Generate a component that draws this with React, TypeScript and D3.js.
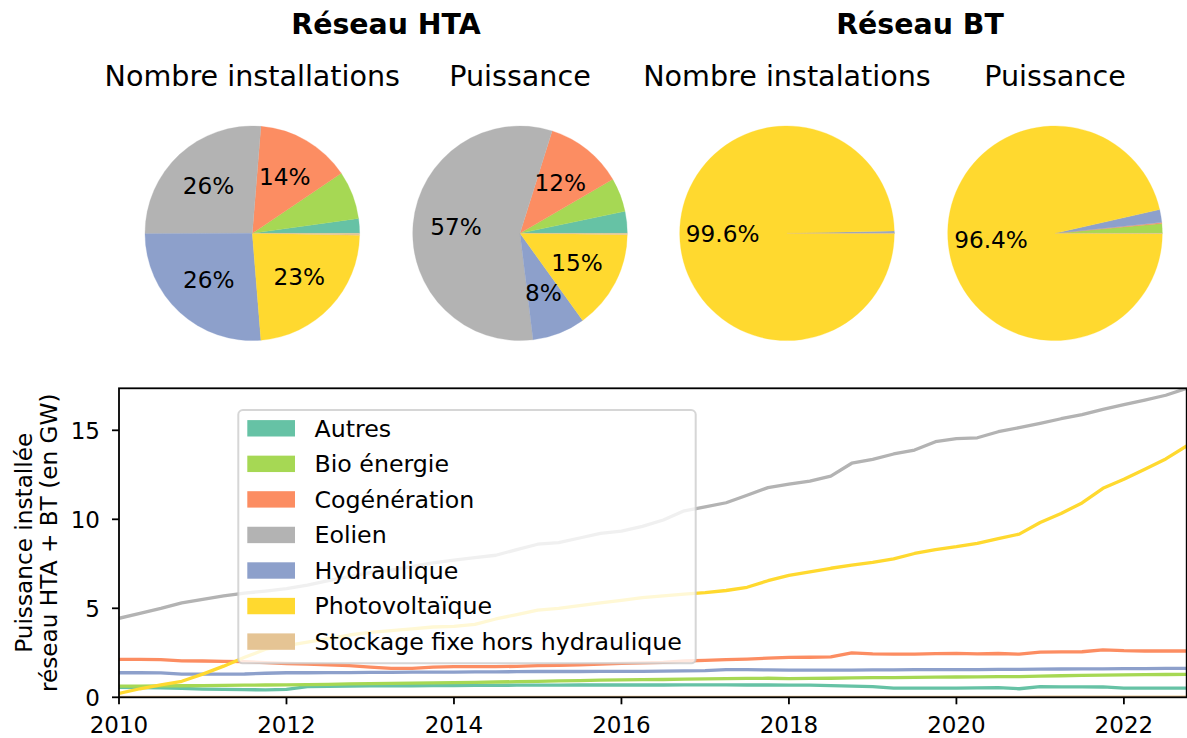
import React from "react";
import * as d3 from "d3";

const categories = ["Autres", "Bio énergie", "Cogénération", "Eolien", "Hydraulique", "Photovoltaïque", "Stockage fixe hors hydraulique"];
const colors = ["#66c2a5", "#a6d854", "#fc8d62", "#b3b3b3", "#8da0cb", "#ffd92f", "#e5c494"];

const pieHTANombre = [2.2, 7.2, 14.2, 26.2, 26.1, 23.3, 0.3];
const pieHTAPuissance = [3.3, 5.1, 11.8, 56.9, 8.0, 14.9, 0.2];
const pieBTNombre = [0.01, 0.03, 0.02, 0.04, 0.25, 99.6, 0.05];
const pieBTPuissance = [0.05, 1.4, 0.15, 0.05, 1.9, 96.4, 0.05];

const groupTitles = ["Réseau HTA", "Réseau BT"];
const pieTitles = ["Nombre installations", "Puissance", "Nombre instalations", "Puissance"];

const startYear = 2010;
const xTicks = [2010, 2012, 2014, 2016, 2018, 2020, 2022];
const yTicks = [0, 5, 10, 15];

const autres = [0.56, 0.55, 0.53, 0.5, 0.46, 0.44, 0.43, 0.42, 0.45, 0.6, 0.62, 0.63, 0.64, 0.65, 0.65, 0.66, 0.66, 0.67, 0.67, 0.68, 0.68, 0.68, 0.69, 0.69, 0.69, 0.69, 0.69, 0.7, 0.7, 0.7, 0.69, 0.69, 0.68, 0.68, 0.66, 0.63, 0.6, 0.52, 0.52, 0.52, 0.52, 0.53, 0.54, 0.48, 0.6, 0.59, 0.59, 0.58, 0.52, 0.52, 0.52, 0.52];
const bio = [0.63, 0.63, 0.64, 0.65, 0.66, 0.67, 0.68, 0.69, 0.7, 0.71, 0.73, 0.75, 0.77, 0.78, 0.8, 0.81, 0.82, 0.84, 0.86, 0.88, 0.9, 0.92, 0.94, 0.96, 0.98, 0.99, 1.0, 1.02, 1.03, 1.05, 1.06, 1.07, 1.05, 1.06, 1.07, 1.09, 1.1, 1.11, 1.12, 1.13, 1.14, 1.15, 1.16, 1.16, 1.19, 1.21, 1.23, 1.25, 1.26, 1.27, 1.28, 1.29];
const cogeneration = [2.13, 2.13, 2.12, 2.05, 2.04, 2.02, 2.0, 1.95, 1.9, 1.87, 1.83, 1.78, 1.7, 1.63, 1.63, 1.7, 1.72, 1.72, 1.72, 1.74, 1.78, 1.8, 1.83, 1.87, 1.91, 1.93, 1.96, 2.04, 2.08, 2.12, 2.15, 2.2, 2.24, 2.25, 2.27, 2.5, 2.44, 2.43, 2.43, 2.45, 2.47, 2.44, 2.46, 2.42, 2.54, 2.55, 2.56, 2.67, 2.62, 2.6, 2.6, 2.6];
const eolien = [4.44, 4.72, 5.0, 5.31, 5.5, 5.7, 5.85, 5.97, 6.1, 6.3, 6.55, 6.78, 7.0, 7.15, 7.35, 7.55, 7.71, 7.85, 7.98, 8.3, 8.6, 8.69, 8.95, 9.21, 9.34, 9.6, 9.96, 10.48, 10.7, 10.93, 11.35, 11.78, 11.97, 12.15, 12.43, 13.15, 13.37, 13.67, 13.89, 14.36, 14.53, 14.58, 14.92, 15.15, 15.39, 15.65, 15.88, 16.18, 16.44, 16.7, 16.97, 17.36];
const hydraulique = [1.38, 1.38, 1.37, 1.3, 1.3, 1.3, 1.31, 1.35, 1.38, 1.38, 1.39, 1.39, 1.4, 1.4, 1.41, 1.41, 1.42, 1.43, 1.43, 1.44, 1.45, 1.45, 1.45, 1.46, 1.46, 1.46, 1.47, 1.48, 1.5, 1.56, 1.56, 1.54, 1.53, 1.53, 1.53, 1.53, 1.54, 1.54, 1.55, 1.55, 1.56, 1.56, 1.57, 1.57, 1.58, 1.59, 1.6, 1.6, 1.61, 1.61, 1.62, 1.63];
const photovoltaique = [0.22, 0.48, 0.7, 0.9, 1.3, 1.75, 2.25, 2.7, 2.9, 3.1, 3.3, 3.5, 3.65, 3.75, 3.85, 3.95, 3.98, 4.1, 4.4, 4.65, 4.9, 5.0, 5.15, 5.3, 5.45, 5.6, 5.7, 5.8, 5.88, 6.0, 6.18, 6.55, 6.85, 7.05, 7.25, 7.42, 7.58, 7.78, 8.08, 8.3, 8.46, 8.65, 8.92, 9.17, 9.82, 10.33, 10.92, 11.74, 12.25, 12.81, 13.39, 14.12];
const stockage = [0, 0, 0, 0, 0, 0, 0, 0, 0, 0, 0, 0, 0, 0, 0, 0, 0, 0, 0, 0, 0, 0, 0, 0, 0, 0, 0, 0, 0, 0, 0, 0, 0, 0, 0, 0, 0, 0, 0, 0, 0, 0, 0, 0, 0.01, 0.01, 0.01, 0.01, 0.01, 0.01, 0.01, 0.01];

const seriesList = [autres, bio, cogeneration, eolien, hydraulique, photovoltaique, stockage];

const FONT = "DejaVu Sans, Verdana, sans-serif";

function PieChart({ values, cx, cy, r, decimals, title }: { values: number[]; cx: number; cy: number; r: number; decimals: number; title: string }) {
  const total = d3.sum(values);
  const pie = d3.pie<number>().sort(null).value((d) => d).startAngle(Math.PI / 2).endAngle(Math.PI / 2 - 2 * Math.PI);
  const arcs = pie(values);
  const arc = d3.arc<d3.PieArcDatum<number>>().innerRadius(0).outerRadius(r);
  return (
    <g>
      <text x={cx} y={86} textAnchor="middle" fontSize={28.6} fontFamily={FONT}>{title}</text>
      <g transform={`translate(${cx},${cy})`}>
        {arcs.map((a, i) => (
          <path key={i} d={arc(a) || ""} fill={colors[i]} stroke={colors[i]} strokeWidth={0.3} />
        ))}
        {arcs.map((a, i) => {
          const pct = (a.data / total) * 100;
          if (pct < 7.5) return null;
          const mid = (a.startAngle + a.endAngle) / 2;
          const lx = Math.sin(mid) * r * 0.6;
          const ly = -Math.cos(mid) * r * 0.6;
          return (
            <text key={"t" + i} x={lx} y={ly + 7.6} textAnchor="middle" fontSize={23.2} fontFamily={FONT}>
              {pct.toFixed(decimals) + "%"}
            </text>
          );
        })}
      </g>
    </g>
  );
}

export default function App() {
  const left = 119, right = 1186.7, top = 388.3, bottom = 697.3;
  const x = d3.scaleLinear().domain([startYear, startYear + 12.75]).range([left, right]);
  const y = d3.scaleLinear().domain([0, 17.36]).range([bottom, top]);
  const line = d3.line<number>().x((_, i) => x(startYear + i * 0.25)).y((d) => y(d));

  const pieR = 107.3;
  const pieCy = 233.3;
  const pieCx = [252.3, 520, 787, 1055];
  const pieData = [pieHTANombre, pieHTAPuissance, pieBTNombre, pieBTPuissance];
  const pieDec = [0, 0, 1, 1];

  const legLeft = 238.3, legTop = 410, legRight = 695.7, legBottom = 663.3;
  const rowY0 = 428.3, rowPitch = 35.55;

  return (
    <svg width={1187} height={738} style={{ position: "absolute", left: 0, top: 0, background: "#fff" }} fontFamily={FONT}>
      <rect x={0} y={0} width={1187} height={738} fill="#fff" />
      <text x={386} y={34} textAnchor="middle" fontSize={28.4} fontWeight="bold" fontFamily={FONT}>{groupTitles[0]}</text>
      <text x={920} y={34} textAnchor="middle" fontSize={28.4} fontWeight="bold" fontFamily={FONT}>{groupTitles[1]}</text>
      {pieData.map((v, i) => (
        <PieChart key={i} values={v} cx={pieCx[i]} cy={pieCy} r={pieR} decimals={pieDec[i]} title={pieTitles[i]} />
      ))}

      <defs>
        <clipPath id="plotclip">
          <rect x={left} y={top} width={right - left} height={bottom - top} />
        </clipPath>
      </defs>
      <g clipPath="url(#plotclip)">
        {seriesList.map((s, i) => (
          <path key={i} d={line(s) || ""} fill="none" stroke={colors[i]} strokeWidth={3.3} strokeLinejoin="round" strokeLinecap="butt" />
        ))}
      </g>

      {/* Legend */}
      <rect x={legLeft} y={legTop} width={legRight - legLeft} height={legBottom - legTop} rx={4.6} ry={4.6} fill="#fff" fillOpacity={0.8} stroke="#cccccc" strokeOpacity={0.8} strokeWidth={2} />
      {categories.map((c, i) => {
        const cy = rowY0 + i * rowPitch;
        return (
          <g key={c}>
            <rect x={247.3} y={cy - 8.2} width={47.7} height={16.4} fill={colors[i]} />
            <text x={314.5} y={cy + 8.4} fontSize={23.7} fontFamily={FONT}>{c}</text>
          </g>
        );
      })}

      {/* Axes */}
      <rect x={left} y={top} width={right - left} height={bottom - top} fill="none" stroke="#000" strokeWidth={1.8} />
      {xTicks.map((t) => (
        <g key={t}>
          <line x1={x(t)} x2={x(t)} y1={bottom} y2={bottom + 7} stroke="#000" strokeWidth={1.8} />
          <text x={x(t)} y={733} textAnchor="middle" fontSize={23} fontFamily={FONT}>{t}</text>
        </g>
      ))}
      {yTicks.map((t) => (
        <g key={t}>
          <line x1={left - 7} x2={left} y1={y(t)} y2={y(t)} stroke="#000" strokeWidth={1.8} />
          <text x={100} y={y(t) + 8.4} textAnchor="end" fontSize={23} fontFamily={FONT}>{t}</text>
        </g>
      ))}
      <text transform={`translate(31.7,${(top + bottom) / 2}) rotate(-90)`} textAnchor="middle" fontSize={23.2} fontFamily={FONT}>Puissance installée</text>
      <text transform={`translate(57.3,${(top + bottom) / 2}) rotate(-90)`} textAnchor="middle" fontSize={23.2} fontFamily={FONT}>réseau HTA + BT (en GW)</text>
    </svg>
  );
}
